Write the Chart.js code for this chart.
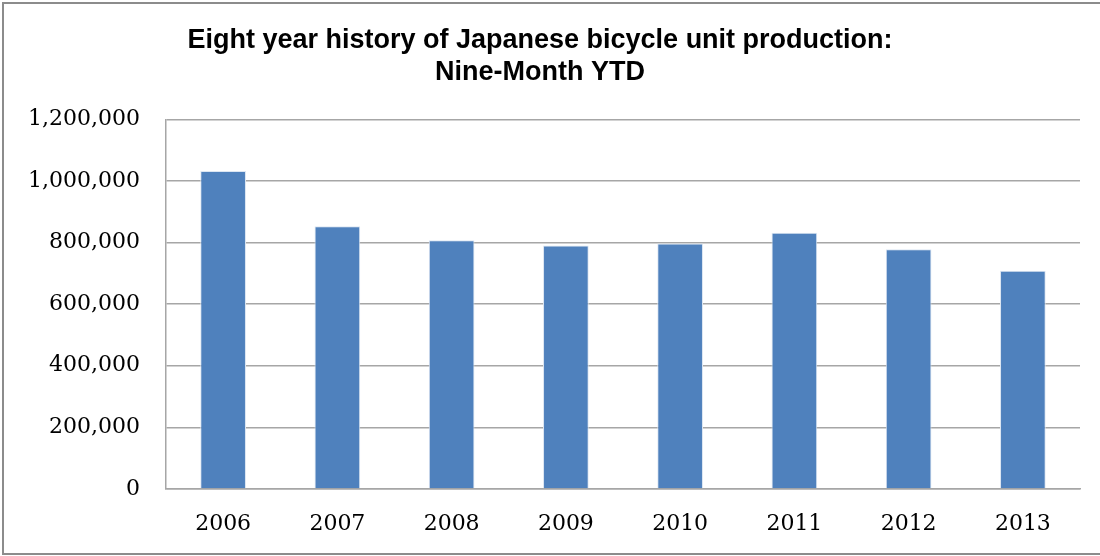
<!DOCTYPE html>
<html>
<head>
<meta charset="utf-8">
<script src="https://cdn.jsdelivr.net/npm/chart.js@4/dist/chart.umd.min.js"></script>
<style>
  html, body { margin: 0; padding: 0; background: #fff; }
  #wrap { width: 1100px; height: 556px; position: relative; }
</style>
</head>
<body>
<div id="wrap"><canvas id="chart" width="1100" height="556"></canvas></div>
<script>
  const years = ['2006', '2007', '2008', '2009', '2010', '2011', '2012', '2013'];
  const units = [1032000, 853000, 807000, 790000, 797000, 832000, 778000, 708000];
  const titleLines = ['Eight year history of Japanese bicycle unit production:', 'Nine-Month YTD'];

  // frame round the whole picture
  const framePlugin = {
    id: 'frame',
    beforeDraw(chart) {
      const ctx = chart.ctx;
      ctx.save();
      ctx.strokeStyle = '#8c8c8c';
      ctx.lineWidth = 2;
      ctx.strokeRect(3, 3, 1110, 551);
      ctx.restore();
    }
  };

  const ctx = document.getElementById('chart').getContext('2d');
  new Chart(ctx, {
    type: 'bar',
    data: {
      labels: years,
      datasets: [{
        data: units,
        backgroundColor: '#4f81bd',
        borderColor: '#dce6f2',
        borderWidth: 1,
        barPercentage: 0.4,
        categoryPercentage: 1.0
      }]
    },
    options: {
      responsive: false,
      animation: false,
      layout: { padding: { left: 0, right: 20, top: 0, bottom: 0 } },
      plugins: {
        legend: { display: false },
        tooltip: { enabled: false },
        title: {
          display: true,
          text: titleLines,
          color: '#000',
          font: { family: 'Liberation Sans', size: 27, weight: 'bold', lineHeight: 1.19 },
          padding: { top: 24, bottom: 31 }
        }
      },
      scales: {
        x: {
          afterFit(scale) { scale.height = 67; },
          grid: { display: false, drawTicks: false },
          border: { color: '#a6a6a6', width: 1.5 },
          ticks: {
            color: '#000',
            padding: 22,
            font: { family: 'DejaVu Serif', size: 22 }
          }
        },
        y: {
          min: 0,
          max: 1200000,
          afterFit(scale) { scale.width = 166; },
          grid: { color: '#a6a6a6', lineWidth: 1.5, drawTicks: false },
          border: { color: '#a6a6a6', width: 1.5 },
          ticks: {
            stepSize: 200000,
            color: '#000',
            padding: 26,
            font: { family: 'DejaVu Serif', size: 22 },
            callback: v => v.toLocaleString('en-US')
          }
        }
      }
    },
    plugins: [framePlugin]
  });
</script>
</body>
</html>
